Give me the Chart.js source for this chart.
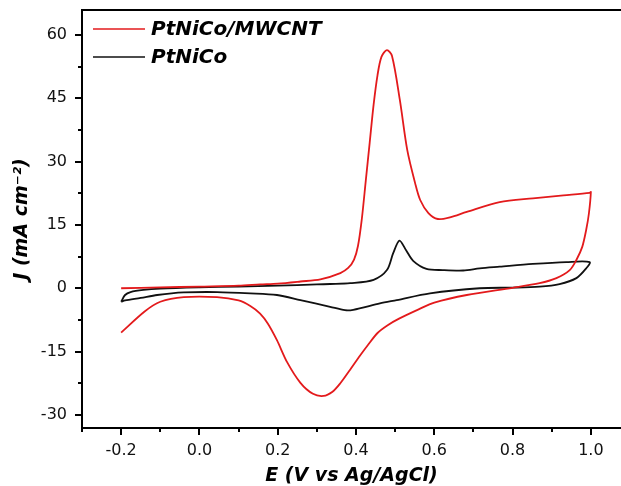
<!DOCTYPE html>
<html>
<head>
<meta charset="utf-8">
<script src="https://cdn.jsdelivr.net/npm/chart.js@4.4.1/dist/chart.umd.min.js"></script>
<style>
  html,body{margin:0;padding:0;background:#fff;overflow:hidden}
  #wrap{width:621px;height:486px;position:relative}
</style>
</head>
<body>
<div id="wrap"><canvas id="cv" width="621" height="486"></canvas></div>
<script>
// PtNiCo/MWCNT (red): forward scan then reverse scan
const redE = [-0.2, -0.1, 0.0, 0.1, 0.155, 0.2, 0.258, 0.309, 0.36, 0.38, 0.395, 0.405, 0.415, 0.425, 0.435, 0.445, 0.455, 0.465, 0.479, 0.492, 0.512, 0.531, 0.551, 0.564, 0.585, 0.609, 0.64, 0.683, 0.767, 0.852, 0.93, 0.997, 1.0,
  0.995, 0.988, 0.978, 0.963, 0.946, 0.912, 0.869, 0.8, 0.683, 0.6, 0.56, 0.51, 0.48, 0.455, 0.43, 0.41, 0.385, 0.36, 0.34, 0.317, 0.29, 0.258, 0.224, 0.198, 0.175, 0.155, 0.13, 0.1, 0.045, -0.04, -0.1, -0.14, -0.2];
const redJ = [0, 0.2, 0.4, 0.6, 0.9, 1.1, 1.6, 2.1, 3.6, 4.8, 6.8, 10.0, 16.5, 25.5, 34.5, 43.5, 50.5, 54.8, 56.4, 55.0, 44.6, 32.7, 24.9, 20.9, 17.8, 16.4, 16.8, 18.1, 20.4, 21.3, 22.0, 22.6, 22.8,
  17.7, 13.8, 9.8, 6.7, 4.3, 2.4, 1.2, 0.1, -1.6, -3.4, -5.0, -7.2, -8.8, -10.6, -13.5, -16.0, -19.3, -22.5, -24.5, -25.5, -25.0, -22.4, -17.5, -12.3, -8.4, -6.0, -4.2, -2.9, -2.1, -2.1, -3.2, -5.5, -10.5];

// PtNiCo (black)
const blackE = [-0.2, -0.19, -0.176, -0.143, -0.1, 0.0, 0.1, 0.2, 0.3, 0.334, 0.385, 0.445, 0.479, 0.495, 0.511, 0.528, 0.546, 0.58, 0.622, 0.674, 0.716, 0.767, 0.852, 0.937, 0.997,
  0.988, 0.963, 0.92, 0.869, 0.8, 0.716, 0.589, 0.504, 0.461, 0.393, 0.372, 0.334, 0.258, 0.198, 0.13, 0.045, -0.04, -0.108, -0.15, -0.19, -0.2];
const blackJ = [-3.2, -1.6, -0.9, -0.4, -0.1, 0.2, 0.4, 0.6, 0.9, 1.0, 1.2, 2.0, 4.3, 8.3, 11.3, 9.0, 6.5, 4.6, 4.3, 4.2, 4.7, 5.1, 5.75, 6.2, 6.2,
  4.7, 2.4, 1.0, 0.4, 0.15, 0.0, -1.2, -2.8, -3.6, -5.1, -5.2, -4.4, -2.8, -1.6, -1.2, -0.9, -1.0, -1.6, -2.3, -2.9, -3.2];

const seriesNames = ['PtNiCo/MWCNT', 'PtNiCo'];
const xTicks = [-0.2, 0.0, 0.2, 0.4, 0.6, 0.8, 1.0];
const xMinor = [-0.3, -0.1, 0.1, 0.3, 0.5, 0.7, 0.9];
const yTicks = [-30, -15, 0, 15, 30, 45, 60];
const yMinor = [-22.5, -7.5, 7.5, 22.5, 37.5, 52.5];

const pts = (xs, ys) => xs.map((x, i) => ({x, y: ys[i]}));

const frame = {
  id: 'frame',
  afterDraw(chart) {
    const {ctx, chartArea: a, scales: {x, y}} = chart;
    ctx.save();
    ctx.strokeStyle = '#000';
    ctx.lineWidth = 2;
    ctx.beginPath();
    ctx.moveTo(a.left, a.top); ctx.lineTo(a.right + 2, a.top);
    ctx.moveTo(a.left, a.top - 1); ctx.lineTo(a.left, a.bottom + 1);
    ctx.moveTo(a.left - 1, a.bottom); ctx.lineTo(a.right + 2, a.bottom);
    xTicks.forEach(v => { const p = Math.round(x.getPixelForValue(v)); ctx.moveTo(p, a.bottom); ctx.lineTo(p, a.bottom + 7); });
    xMinor.forEach(v => { const p = Math.round(x.getPixelForValue(v)); ctx.moveTo(p, a.bottom); ctx.lineTo(p, a.bottom + 4); });
    yTicks.forEach(v => { const p = Math.round(y.getPixelForValue(v)); ctx.moveTo(a.left, p); ctx.lineTo(a.left - 7, p); });
    yMinor.forEach(v => { const p = Math.round(y.getPixelForValue(v)); ctx.moveTo(a.left, p); ctx.lineTo(a.left - 4, p); });
    ctx.stroke();

    // legend
    ctx.font = 'italic bold 20px "DejaVu Sans"';
    ctx.textBaseline = 'middle';
    chart.data.datasets.forEach((ds, i) => {
      const yy = 29 + i * 28;
      ctx.strokeStyle = ds.borderColor;
      ctx.lineWidth = 1.5;
      ctx.beginPath(); ctx.moveTo(93, yy); ctx.lineTo(145, yy); ctx.stroke();
      ctx.fillStyle = '#000';
      ctx.fillText(ds.label, 151, yy + 1);
    });
    ctx.restore();
  }
};

new Chart(document.getElementById('cv'), {
  type: 'scatter',
  data: {
    datasets: [
      {label: seriesNames[0], data: pts(redE, redJ), showLine: true, borderColor: '#e31a1c', borderWidth: 1.8, pointRadius: 0, tension: 0.3},
      {label: seriesNames[1], data: pts(blackE, blackJ), showLine: true, borderColor: '#111', borderWidth: 1.8, pointRadius: 0, tension: 0.3}
    ]
  },
  options: {
    responsive: false,
    animation: false,
    devicePixelRatio: 1,
    layout: {padding: {top: 10, right: 0, left: 0, bottom: 0}},
    plugins: {legend: {display: false}, tooltip: {enabled: false}},
    scales: {
      x: {
        type: 'linear', min: -0.3, max: 1.077,
        grid: {display: false}, border: {display: false},
        afterBuildTicks: s => { s.ticks = xTicks.map(v => ({value: v})); },
        afterFit: s => { s.height = 58; s.paddingLeft = 0; s.paddingRight = 0; },
        ticks: {color: '#111', padding: 5, maxRotation: 0, font: {family: 'DejaVu Sans', size: 16}, callback: v => v.toFixed(1)},
        title: {display: true, text: 'E (V vs Ag/AgCl)', color: '#000', padding: {top: 0, bottom: 0},
          font: {family: 'DejaVu Sans', size: 19, weight: 'bold', style: 'italic', lineHeight: 1}}
      },
      y: {
        type: 'linear', min: -33.1, max: 65.9,
        grid: {display: false}, border: {display: false},
        afterBuildTicks: s => { s.ticks = yTicks.map(v => ({value: v})); },
        afterFit: s => { s.width = 82; s.paddingTop = 0; s.paddingBottom = 0; },
        ticks: {color: '#111', padding: 7, font: {family: 'DejaVu Sans', size: 16}, callback: v => String(v)},
        title: {display: true, text: 'J (mA cm⁻²)', color: '#000', padding: {top: 11, bottom: 0},
          font: {family: 'DejaVu Sans', size: 19, weight: 'bold', style: 'italic'}}
      }
    }
  },
  plugins: [frame]
});
</script>
</body>
</html>
